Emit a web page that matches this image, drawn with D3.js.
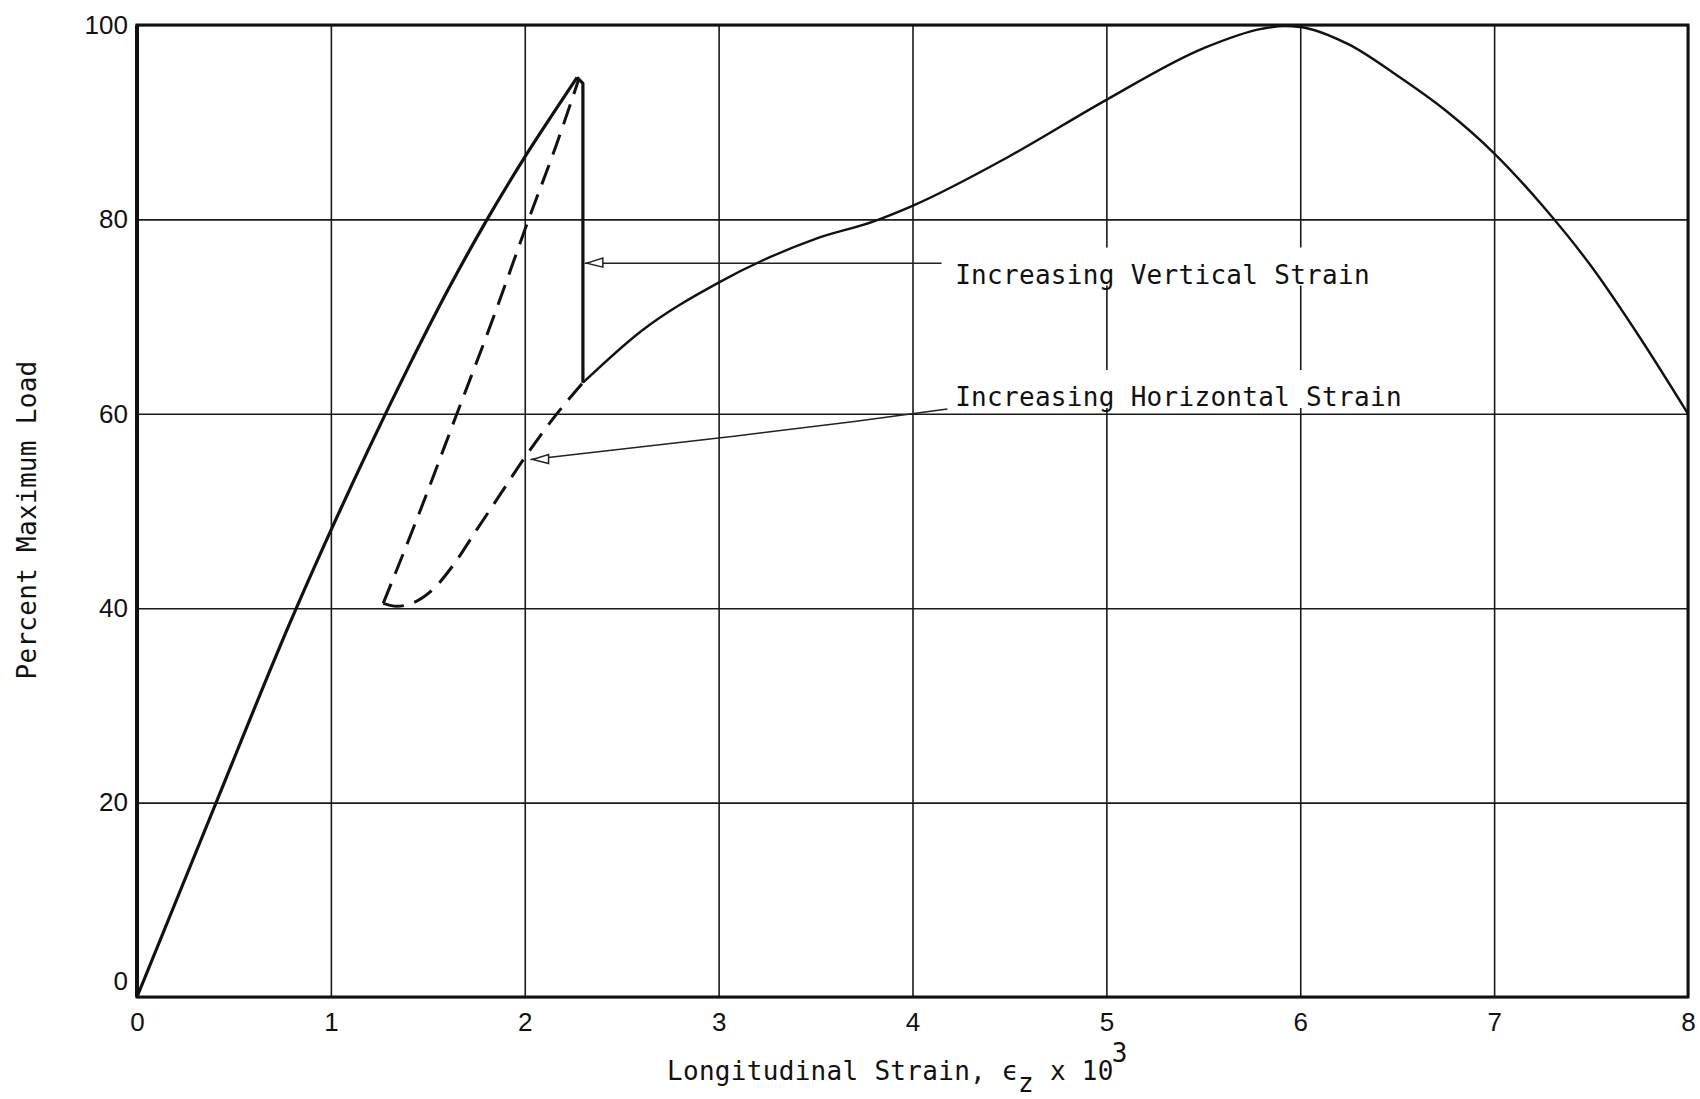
<!DOCTYPE html>
<html lang="en">
<head>
  <meta charset="UTF-8">
  <title>Percent Maximum Load vs Longitudinal Strain</title>
  <style>
    body {
      margin: 0;
      background: #fff;
    }
    .grid line {
      stroke: #1a1a1a;
      stroke-width: 1.6;
    }
    .tick text {
      font-family: "Liberation Sans", Arial, sans-serif;
      font-size: 26px;
      fill: #111;
    }
    .mono {
      font-family: "DejaVu Sans Mono", monospace;
      font-size: 26px;
      fill: #111;
    }
  </style>
  <script src="https://d3js.org/d3.v7.min.js"></script>
</head>
<body>
  <svg id="chart" width="1700" height="1099"></svg>

  <script>
    // ticks
    const xTicks = [0, 1, 2, 3, 4, 5, 6, 7, 8];
    const yTicks = [0, 20, 40, 60, 80, 100];

    // solid curve, loading up to the first peak
    const riseX = [0, 0.4, 0.8, 1.0, 1.2, 1.4, 1.6, 1.8, 2.0, 2.15, 2.27];
    const riseY = [0, 19.6, 39, 48, 56.6, 64.8, 72.6, 79.8, 86.4, 91, 94.6];

    // sudden drop
    const dropX = [2.27, 2.3, 2.3];
    const dropY = [94.6, 94, 63.2];

    // solid curve after the drop
    const tailX = [2.3, 2.6, 3.0, 3.5, 3.8, 4.0, 4.5, 5.0, 5.5, 5.8, 5.92, 6.0, 6.25, 6.5, 6.75, 7.0, 7.25, 7.5, 7.75, 8.0];
    const tailY = [63.2, 68.5, 73.5, 78, 79.8, 81.4, 86.5, 92.3, 97.6, 99.6, 99.9, 99.8, 98, 94.8, 91.2, 86.8, 81.4, 75.2, 67.9, 60];

    // dashed unloading / reloading loop (both branches start at the bottom)
    const dashDownX = [1.27, 1.46, 1.65, 1.84, 2.02, 2.16, 2.28];
    const dashDownY = [40.5, 50, 60, 70, 80, 87.5, 94.5];
    const dashUpX = [1.27, 1.34, 1.53, 1.63, 1.75, 1.87, 2.0, 2.15, 2.3];
    const dashUpY = [40.5, 40.2, 42.0, 44.4, 48, 51.6, 55.5, 59.6, 63.2];

    // annotation leaders
    const vertLeadX = [2.31, 4.15];
    const vertLeadY = [75.5, 75.5];
    const horLeadX = [2.03, 3.0, 3.7, 4.18];
    const horLeadY = [55.3, 57.5, 59.2, 60.5];
    const notes = ["Increasing Vertical Strain", "Increasing Horizontal Strain"];
    const noteX = [4.22, 4.22];
    const noteY = [73.4, 60.8];

    const svg = d3.select("#chart");
    const mLeft = 137, mRight = 1688, mTop = 25, mBottom = 997;

    const x = d3.scaleLinear().domain([0, 8]).range([mLeft, mRight]);
    const y = d3.scaleLinear().domain([0, 100]).range([mBottom, mTop]);

    const zip = (a, b) => a.map((v, i) => [v, b[i]]);

    // grid + tick labels
    svg.append("g")
      .attr("class", "grid")
      .attr("transform", `translate(0,${mBottom})`)
      .call(d3.axisBottom(x).tickValues(xTicks).tickSize(-(mBottom - mTop)).tickPadding(16).tickFormat(d3.format("d")))
      .call(g => g.select(".domain").remove());

    svg.append("g")
      .attr("class", "grid")
      .attr("transform", `translate(${mLeft},0)`)
      .call(d3.axisLeft(y).tickValues(yTicks).tickSize(-(mRight - mLeft)).tickPadding(9).tickFormat(d3.format("d")))
      .call(g => g.select(".domain").remove())
      .call(g => g.selectAll(".tick text").filter(d => d === 0).attr("dy", "-0.3em"));

    // frame
    svg.append("rect")
      .attr("x", mLeft).attr("y", mTop)
      .attr("width", mRight - mLeft).attr("height", mBottom - mTop)
      .attr("fill", "none")
      .attr("stroke", "#111")
      .attr("stroke-width", 3);
    svg.append("line")
      .attr("x1", mLeft).attr("x2", mLeft).attr("y1", mTop).attr("y2", mBottom)
      .attr("stroke", "#111").attr("stroke-width", 4);

    const smooth = d3.line().x(d => x(d[0])).y(d => y(d[1])).curve(d3.curveMonotoneX);
    const straight = d3.line().x(d => x(d[0])).y(d => y(d[1]));

    // annotation leaders
    svg.append("path")
      .attr("d", straight(zip(vertLeadX, vertLeadY)))
      .attr("fill", "none").attr("stroke", "#222").attr("stroke-width", 1.5);
    svg.append("path")
      .attr("d", smooth(zip(horLeadX, horLeadY)))
      .attr("fill", "none").attr("stroke", "#222").attr("stroke-width", 1.5);

    // small open arrowheads at the leader starts
    [[vertLeadX[0], vertLeadY[0]], [horLeadX[0], horLeadY[0]]].forEach(p => {
      const px = x(p[0]) + 2, py = y(p[1]);
      svg.append("path")
        .attr("d", `M${px},${py} L${px + 16},${py - 5} L${px + 16},${py + 4} Z`)
        .attr("fill", "#fff").attr("stroke", "#222").attr("stroke-width", 1.5);
    });

    // note labels on white boxes
    notes.forEach((t, i) => {
      const g = svg.append("g");
      const txt = g.append("text")
        .attr("class", "mono")
        .attr("x", x(noteX[i]))
        .attr("y", y(noteY[i]))
        .attr("letter-spacing", 0.3)
        .text(t);
      const bb = txt.node().getBBox();
      g.insert("rect", "text")
        .attr("x", bb.x - 10).attr("y", bb.y - 12)
        .attr("width", bb.width + 20).attr("height", bb.height + 8)
        .attr("fill", "#fff");
    });

    // curves
    svg.append("path")
      .attr("d", smooth(zip(riseX, riseY)))
      .attr("fill", "none").attr("stroke", "#111").attr("stroke-width", 3.2);
    svg.append("path")
      .attr("d", straight(zip(dropX, dropY)))
      .attr("fill", "none").attr("stroke", "#111").attr("stroke-width", 3.2)
      .attr("stroke-linejoin", "round");
    svg.append("path")
      .attr("d", smooth(zip(tailX, tailY)))
      .attr("fill", "none").attr("stroke", "#111").attr("stroke-width", 2.4);

    [zip(dashDownX, dashDownY), zip(dashUpX, dashUpY)].forEach(pts => {
      svg.append("path")
        .attr("d", smooth(pts))
        .attr("fill", "none").attr("stroke", "#111").attr("stroke-width", 3)
        .attr("stroke-dasharray", "21,11");
    });

    // axis titles
    const xt = svg.append("text")
      .attr("class", "mono")
      .attr("x", 667).attr("y", 1080)
      .attr("letter-spacing", 0.3);
    xt.append("tspan").text("Longitudinal Strain, \u03F5");
    xt.append("tspan").attr("dy", 12).text("z");
    xt.append("tspan").attr("dy", -12).text(" x 10");
    xt.append("tspan").attr("dy", -18).attr("dx", -2).text("3");

    svg.append("text")
      .attr("class", "mono")
      .attr("transform", "translate(36,520) rotate(-90)")
      .attr("text-anchor", "middle")
      .attr("letter-spacing", 0.3)
      .text("Percent Maximum Load");
  </script>
</body>
</html>
